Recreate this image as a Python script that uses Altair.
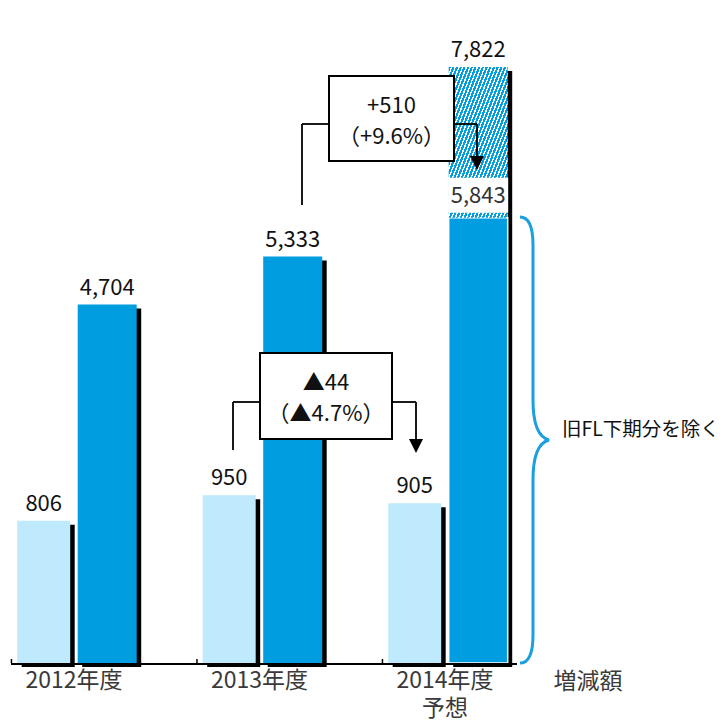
import altair as alt
import pandas as pd

# ---------------- data ----------------
years = ["2012年度", "2013年度", "2014年度\n予想"]
light_vals = [806, 950, 905]
dark_vals = [4704, 5333, 5843]
dark_incl_vals = [None, None, 7822]      # 2014 incl. 旧FL下期分
change_main = ["▲44", "+510"]
change_pct = ["（▲4.7%）", "（+9.6%）"]
brace_note = "旧FL下期分を除く"
diff_label = "増減額"

# ---------------- style ----------------
FONT = "Noto Sans CJK JP"
LIGHT = "#bfe9fc"
DARK = "#009de0"
BRACE = "#1a9fe0"

df = pd.DataFrame({"year": years, "light": light_vals, "dark": dark_vals,
                   "dark_incl": dark_incl_vals})
df["dark_top"] = df["dark_incl"].fillna(df["dark"])

X = alt.X("year:N", sort=years, title=None,
          scale=alt.Scale(domain=years, range=[17.2, 573.7], paddingInner=0, paddingOuter=0),
          axis=alt.Axis(domain=False, ticks=False, labelAngle=0, labelFont=FONT,
                        labelFontSize=23, labelColor="#3a3a3a", labelOffset=-36,
                        labelPadding=6, labelLineHeight=28,
                        labelExpr="split(datum.label, '\\n')"))
LS = alt.Scale(domain=[0, 3756])
DS = alt.Scale(domain=[0, 8700])

L_OFF, L_W = -66.25, 53
D_OFF, D_W = -2.75, 59
SH = 4.5

base = alt.Chart(df)
has_incl = "isValid(datum.dark_incl)"

light_shadow = base.mark_bar(color="black", width=L_W, xOffset=L_OFF + SH, yOffset=4).encode(
    x=X, y=alt.Y("light:Q", scale=LS, axis=None))
light_bar = base.mark_bar(color=LIGHT, width=L_W, xOffset=L_OFF).encode(
    x=X, y=alt.Y("light:Q", scale=LS, axis=None))
dark_shadow = base.mark_bar(color="black", width=D_W, xOffset=D_OFF + SH, yOffset=4).encode(
    x=X, y=alt.Y("dark_top:Q", scale=DS, axis=None))
dark_bar = base.mark_bar(color=DARK, width=D_W, xOffset=D_OFF, stroke="white").encode(
    x=X, y=alt.Y("dark:Q", scale=DS, axis=None),
    strokeWidth=alt.condition(has_incl, alt.value(1.5), alt.value(0)))

n_str = 32
stops = []
for i in range(n_str):
    a = i / n_str
    b = (i + 0.6) / n_str
    c = (i + 1) / n_str
    stops += [alt.GradientStop(color=DARK, offset=a), alt.GradientStop(color=DARK, offset=b),
              alt.GradientStop(color="white", offset=b), alt.GradientStop(color="white", offset=c)]
hatch_fill = alt.LinearGradient(gradient="linear", stops=stops, x1=0, y1=0, x2=1, y2=1)
hatch = base.transform_filter(has_incl).mark_bar(color=hatch_fill, width=D_W, xOffset=D_OFF).encode(
    x=X, y=alt.Y("dark_incl:Q", scale=DS, axis=None), y2="dark:Q")

txt = dict(font=FONT, fontSize=22, color="#111111", baseline="alphabetic", dy=-10)
light_lab = base.mark_text(xOffset=L_OFF, **txt).encode(
    x=X, y=alt.Y("light:Q", scale=LS, axis=None), text=alt.Text("light:Q", format=","))
dark_lab = base.transform_filter("!" + has_incl).mark_text(xOffset=D_OFF, **txt).encode(
    x=X, y=alt.Y("dark:Q", scale=DS, axis=None), text=alt.Text("dark:Q", format=","))
incl_lab = base.transform_filter(has_incl).mark_text(xOffset=D_OFF, **txt).encode(
    x=X, y=alt.Y("dark_incl:Q", scale=DS, axis=None), text=alt.Text("dark_incl:Q", format=","))
solid_box = base.transform_filter(has_incl).mark_rect(color="white", width=60, xOffset=D_OFF,
                                                      yOffset=-40, y2Offset=-5).encode(
    x=X, y=alt.Y("dark:Q", scale=DS, axis=None), y2="dark:Q")
solid_lab = base.transform_filter(has_incl).mark_text(
    xOffset=D_OFF, font=FONT, fontSize=22, color="#333333", baseline="middle", dy=-22).encode(
    x=X, y=alt.Y("dark:Q", scale=DS, axis=None), text=alt.Text("dark:Q", format=","))

ticks = base.mark_rule(color="black", strokeWidth=1.5, xOffset=-98.5).encode(
    x=X, y=alt.value(659), y2=alt.value(663))

one = pd.DataFrame({"k": [0]})
baseline = alt.Chart(one).mark_rule(color="black", strokeWidth=2).encode(
    x=alt.value(11), x2=alt.value(517), y=alt.value(664))

# ---------------- annotation layout (pixels) ----------------
segs = pd.DataFrame({
    "x":  [260, 233, 392, 416, 329, 302, 454, 477],
    "y":  [402, 402, 402, 402, 124, 124, 124, 124],
    "x2": [233, 233, 416, 416, 302, 302, 477, 477],
    "y2": [402, 450, 402, 440, 124, 205, 124, 158],
})
connectors = alt.Chart(segs).mark_rule(color="black", strokeWidth=1.8).encode(
    x=alt.X("x:Q", scale=None, axis=None), x2="x2:Q",
    y=alt.Y("y:Q", scale=None, axis=None), y2="y2:Q")

tri = alt.Chart(pd.DataFrame({"x": [416, 477], "y": [446, 163]})).mark_point(
    shape="M -1 -1 L 1 -1 L 0 1 Z", size=196, filled=True, color="black", opacity=1).encode(
    x=alt.X("x:Q", scale=None, axis=None), y=alt.Y("y:Q", scale=None, axis=None))

boxes = alt.Chart(pd.DataFrame({"x": [260, 329], "x2": [392, 454], "y": [353, 76], "y2": [439, 161]})
                  ).mark_rect(fill="white", stroke="black", strokeWidth=2).encode(
    x=alt.X("x:Q", scale=None, axis=None), x2="x2:Q",
    y=alt.Y("y:Q", scale=None, axis=None), y2="y2:Q")

box_txt = pd.DataFrame({
    "x": [326, 326, 391.5, 391.5],
    "y": [383, 414, 106, 137],
    "t": [change_main[0], change_pct[0], change_main[1], change_pct[1]],
})
box_labels = alt.Chart(box_txt).mark_text(font=FONT, fontSize=22, color="#111111",
                                          baseline="middle").encode(
    x=alt.X("x:Q", scale=None, axis=None), y=alt.Y("y:Q", scale=None, axis=None), text="t:N")

brace_path = ("M -0.0673 -1 Q -0.009 -1 -0.009 -0.874 L -0.009 -0.179 "
              "Q -0.009 -0.018 0.0628 0 Q -0.009 0.018 -0.009 0.179 "
              "L -0.009 0.874 Q -0.009 1 -0.0673 1")
brace = alt.Chart(one).mark_point(shape=brace_path, size=198916, filled=False, color=BRACE,
                                  strokeWidth=3, opacity=1).encode(
    x=alt.value(535), y=alt.value(440))

note = alt.Chart(one).mark_text(text=brace_note, font=FONT, fontSize=19.5, color="#111111",
                                align="left", baseline="middle").encode(
    x=alt.value(562), y=alt.value(430))
diff = alt.Chart(one).mark_text(text=diff_label, font=FONT, fontSize=23, color="#3a3a3a",
                                align="center", baseline="alphabetic").encode(
    x=alt.value(588), y=alt.value(689))

chart = alt.layer(
    light_shadow, light_bar, dark_shadow, dark_bar, hatch,
    ticks, baseline,
    connectors, tri, boxes, box_labels,
    light_lab, dark_lab, incl_lab, solid_box, solid_lab,
    brace, note, diff,
).properties(
    width=726, height=663,
    padding={"left": 0, "top": 0, "right": 0, "bottom": 59},
    autosize=alt.AutoSizeParams(type="none"),
).resolve_scale(y="independent").configure_view(strokeWidth=0)

chart.save("out.html", embed_options={"renderer": "svg", "actions": False})
